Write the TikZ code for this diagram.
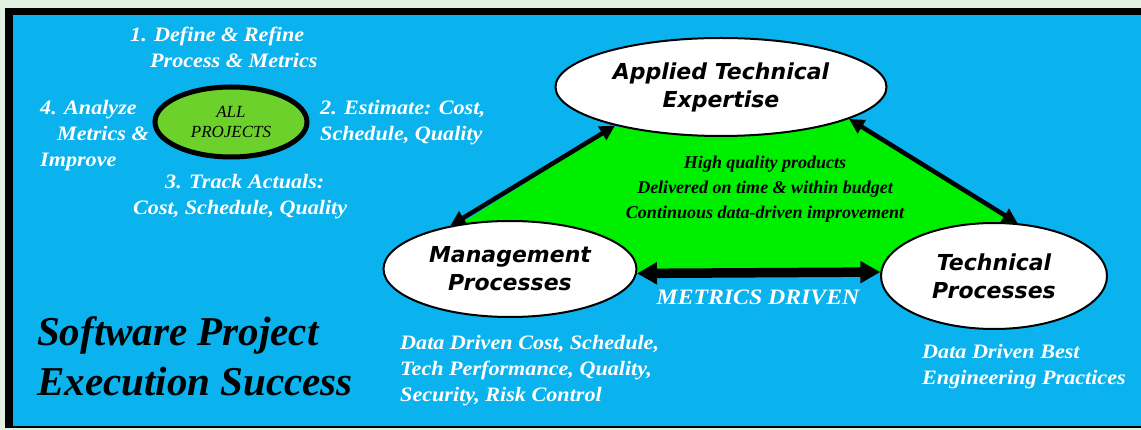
\documentclass[tikz,border=0pt]{standalone}
\usepackage{fontspec}
\setmainfont{Liberation Serif}
\newfontfamily\wfont[FakeStretch=1.08]{Liberation Serif}
\newfontfamily\vsans{DejaVu Sans}
\usetikzlibrary{shapes.geometric,arrows.meta}
\definecolor{pagebg}{HTML}{E2F0E2}
\definecolor{panelblue}{HTML}{0AB2EE}
\definecolor{trigreen}{HTML}{00EE00}
\definecolor{allgreen}{HTML}{6CD12A}
\tikzset{
  x=1pt, y=-1pt,
  oval/.style={ellipse, draw=black, line width=2pt, fill=white, inner sep=0pt, align=center,
    font=\vsans\bfseries\itshape\fontsize{22}{28}\selectfont},
  wtext/.style={text=white, font=\wfont\bfseries\itshape\fontsize{20.5}{26}\selectfont, inner sep=0pt},
  btext/.style={text=black, font=\bfseries\itshape\fontsize{18}{25}\selectfont, inner sep=0pt},
  darrow/.style={line width=4.5pt, {Triangle[length=15pt,width=15pt]}-{Triangle[length=15pt,width=15pt]}},
  harrow/.style={line width=9.5pt, {Triangle[length=20pt,width=21pt]}-{Triangle[length=20pt,width=21pt]}}
}
\begin{document}
\begin{tikzpicture}
\useasboundingbox (0,0) rectangle (1141,430);
\fill[pagebg] (0,0) rectangle (1141,430);
\fill[black] (5,8) rectangle (1141,428);
\fill[panelblue] (13,15) rectangle (1141,426);

% green triangle
\fill[trigreen] (452,229) -- (615,127) -- (848,118) -- (1018,226) -- (1022,273) -- (630,273) -- cycle;

% ellipses
\node[oval, minimum width=331pt, minimum height=98pt] (applied) at (721,87) {Applied Technical\\Expertise};
\node[oval, minimum width=253pt, minimum height=96pt] (mgmt) at (510,269) {Management\\Processes};
\node[oval, minimum width=226pt, minimum height=106pt] (tech) at (994,276) {Technical\\Processes};
\node[ellipse, draw=black, line width=5pt, fill=allgreen, minimum width=152pt, minimum height=70pt, inner sep=0pt,
  align=center, font=\itshape\fontsize{17}{20}\selectfont] (all) at (231,122) {ALL\\PROJECTS};

% connectors
\draw[darrow] (mgmt.144) -- (applied.200);
\draw[darrow] (applied.346) -- (tech.66);
\draw[harrow] (mgmt.-2) -- (tech.178);

% texts
\node[btext, align=center] (goals) at (765,189) {High quality products\\Delivered on time \& within budget\\Continuous data-driven improvement};
\node[wtext, font=\wfont\bfseries\itshape\fontsize{22}{26}\selectfont] (metrics) at (758,297) {METRICS DRIVEN};

\node[wtext, align=left, anchor=north west] (s1) at (130,27) {1. Define \& Refine\\\hspace*{20pt}Process \& Metrics};
\node[wtext, align=left, anchor=north west] (s2) at (320,100) {2. Estimate: Cost,\\Schedule, Quality};
\node[wtext, align=left, anchor=north west] (s3) at (133,174) {\hspace*{32pt}3. Track Actuals:\\Cost, Schedule, Quality};
\node[wtext, align=left, anchor=north west] (s4) at (40,100) {4. Analyze\\\hspace*{17pt}Metrics \&\\Improve};

\node[text=black, font=\bfseries\itshape\fontsize{41}{50}\selectfont, align=left, anchor=north west, inner sep=0pt] (title) at (37,316) {Software Project\\Execution Success};

\node[wtext, align=left, anchor=north west] (mgmtnote) at (400,335) {Data Driven Cost, Schedule,\\Tech Performance, Quality,\\Security, Risk Control};
\node[wtext, align=left, anchor=north west] (technote) at (922,344) {Data Driven Best\\Engineering Practices};
\end{tikzpicture}
\end{document}
